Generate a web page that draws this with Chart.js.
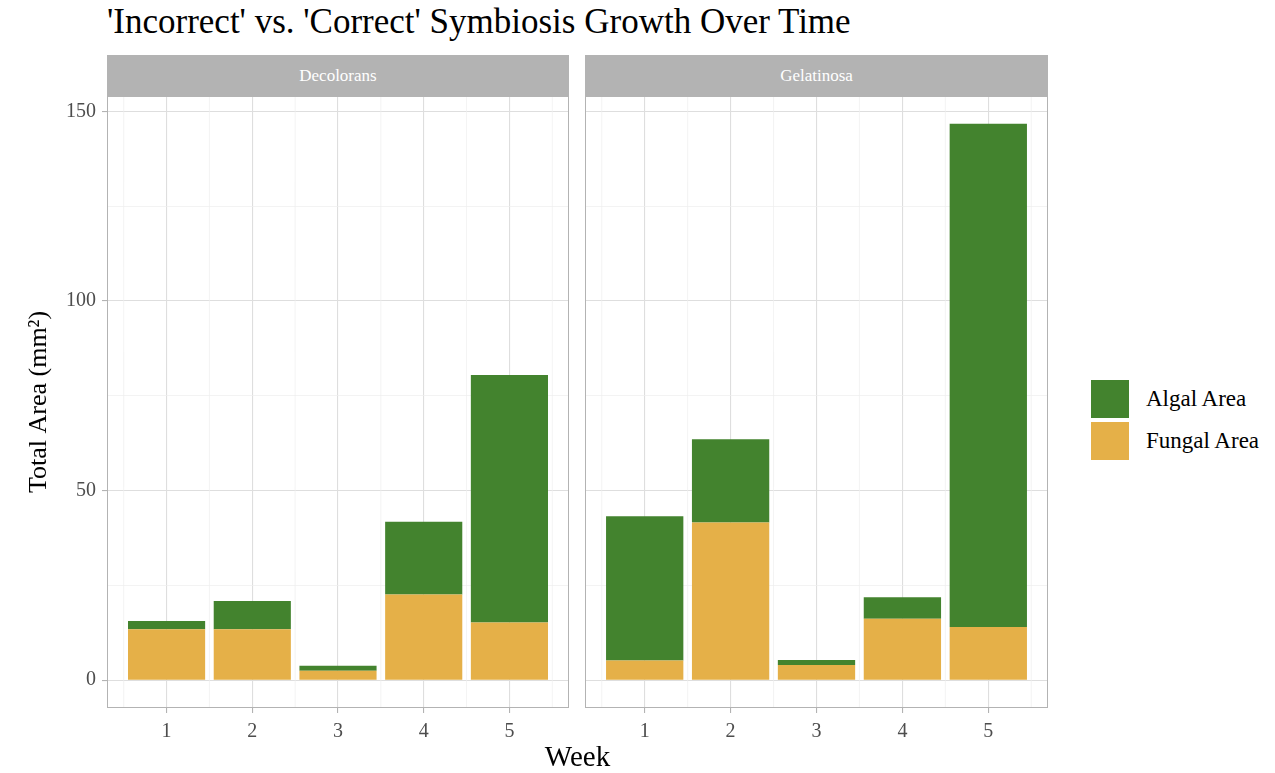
<!DOCTYPE html>
<html>
<head>
<meta charset="utf-8">
<script src="https://cdn.jsdelivr.net/npm/chart.js@4.4.0/dist/chart.umd.min.js"></script>
<style>
  body { margin: 0; background: #fff; font-family: "Liberation Serif", "DejaVu Serif", serif; }
  #page { position: relative; width: 1275px; height: 773px; overflow: hidden; background: #fff; }
  #title { position: absolute; left: 107px; top: 2px; font-size: 35px; color: #000; white-space: nowrap; }
  .strip { position: absolute; top: 55px; height: 41px; background: #b3b3b3; color: #fff; font-size: 17px; text-align: center; line-height: 41px; }
  .panel { position: absolute; top: 76px; height: 697px; }
  #xtitle { position: absolute; left: 0; width: 1155px; top: 740px; text-align: center; font-size: 29px; color: #000; }
  .key { position: absolute; left: 1091px; width: 38px; height: 38px; }
  .keylabel { position: absolute; left: 1146px; font-size: 23px; color: #000; line-height: 38px; white-space: nowrap; }
</style>
</head>
<body>
<div id="page">
  <div id="title">'Incorrect' vs. 'Correct' Symbiosis Growth Over Time</div>
  <div class="strip" style="left:107px; width:462px;">Decolorans</div>
  <div class="strip" style="left:585px; width:463px;">Gelatinosa</div>
  <div class="panel" style="left:0; width:575px;"><canvas id="chartDecolorans"></canvas></div>
  <div class="panel" style="left:575px; width:479px;"><canvas id="chartGelatinosa"></canvas></div>
  <div id="xtitle">Week</div>
  <div id="legend"></div>
</div>
<script>
// data (mm2)
const weeks = [1, 2, 3, 4, 5];
const decoloransFungal = [13.4, 13.4, 2.5, 22.6, 15.2];
const decoloransAlgal = [2.2, 7.5, 1.3, 19.2, 65.3];
const gelatinosaFungal = [5.2, 41.6, 4.0, 16.2, 14.0];
const gelatinosaAlgal = [38.0, 21.9, 1.3, 5.7, 132.7];

const yTicks = [0, 25, 50, 75, 100, 125, 150];
const xMinorTicks = [0.5, 1.5, 2.5, 3.5, 4.5, 5.5];
const legendNames = ['Algal Area', 'Fungal Area'];
const legendColors = ['#43832E', '#E5B048'];

const FONT = '"Liberation Serif", "DejaVu Serif", serif';

// legend manual di kanan
const legendEl = document.getElementById('legend');
legendNames.forEach((name, i) => {
    const top = 380 + i * 42;
    legendEl.innerHTML += `<div class="key" style="top:${top}px; background:${legendColors[i]}"></div>` +
        `<div class="keylabel" style="top:${top}px">${name}</div>`;
});

// border panel + grid minor vertikal (di antara minggu)
const panelDecor = {
    id: 'panelDecor',
    beforeDatasetsDraw(chart) {
        const { ctx, chartArea: a, scales } = chart;
        ctx.save();
        ctx.strokeStyle = '#eeeeee';
        ctx.lineWidth = 0.7;
        xMinorTicks.forEach(v => {
            const px = scales.x.getPixelForValue(v);
            ctx.beginPath();
            ctx.moveTo(px, a.top);
            ctx.lineTo(px, a.bottom);
            ctx.stroke();
        });
        ctx.restore();
    },
    afterDraw(chart) {
        const { ctx, chartArea: a } = chart;
        ctx.save();
        ctx.strokeStyle = '#b3b3b3';
        ctx.lineWidth = 1;
        ctx.strokeRect(a.left + 0.5, a.top + 0.5, a.width - 1, a.height - 1);
        ctx.restore();
    }
};

function isMajorY(c) { return !c.tick || c.tick.value % 50 === 0; }

function makePanel(id, fungal, algal, showY) {
    const ctx = document.getElementById(id).getContext('2d');
    return new Chart(ctx, {
        type: 'bar',
        data: {
            datasets: [
                {
                    label: 'Fungal Area',
                    backgroundColor: legendColors[1],
                    data: weeks.map((w, i) => ({ x: w, y: fungal[i] }))
                },
                {
                    label: 'Algal Area',
                    backgroundColor: legendColors[0],
                    data: weeks.map((w, i) => ({ x: w, y: algal[i] }))
                }
            ]
        },
        plugins: [panelDecor],
        options: {
            responsive: true,
            maintainAspectRatio: false,
            animation: false,
            barPercentage: 0.9,
            categoryPercentage: 1.0,
            borderWidth: 0,
            layout: { padding: { top: 20, bottom: 0, left: showY ? 0 : 10, right: 6 } },
            plugins: {
                legend: { display: false },
                tooltip: { enabled: false }
            },
            scales: {
                x: {
                    type: 'linear',
                    min: 0.305,
                    max: 5.695,
                    offset: false,
                    stacked: true,
                    afterBuildTicks: s => { s.ticks = weeks.map(v => ({ value: v })); },
                    afterFit: s => { s.height = 65; },
                    border: { display: false },
                    grid: {
                        offset: false,
                        color: '#dedede',
                        lineWidth: 1.1,
                        tickLength: 5,
                        tickColor: '#b3b3b3'
                    },
                    ticks: {
                        autoSkip: false,
                        maxRotation: 0,
                        padding: 7,
                        color: '#4d4d4d',
                        font: { family: FONT, size: 20 }
                    }
                },
                y: {
                    min: -7.335,
                    max: 154.035,
                    stacked: true,
                    afterBuildTicks: s => { s.ticks = yTicks.map(v => ({ value: v })); },
                    afterFit: s => { s.width = showY ? 107 : 0; },
                    border: { display: false },
                    grid: {
                        color: c => isMajorY(c) ? '#dedede' : '#eeeeee',
                        lineWidth: c => isMajorY(c) ? 1.1 : 0.7,
                        drawTicks: showY,
                        tickLength: 5,
                        tickColor: c => isMajorY(c) ? '#b3b3b3' : 'rgba(0,0,0,0)'
                    },
                    ticks: {
                        display: showY,
                        autoSkip: false,
                        padding: 6,
                        color: '#4d4d4d',
                        font: { family: FONT, size: 20 },
                        callback: v => v % 50 === 0 ? v : ''
                    },
                    title: {
                        display: showY,
                        text: 'Total Area (mm²)',
                        color: '#000',
                        font: { family: FONT, size: 26 },
                        padding: { top: 24, bottom: 0 }
                    }
                }
            }
        }
    });
}

makePanel('chartDecolorans', decoloransFungal, decoloransAlgal, true);
makePanel('chartGelatinosa', gelatinosaFungal, gelatinosaAlgal, false);
</script>
</body>
</html>
